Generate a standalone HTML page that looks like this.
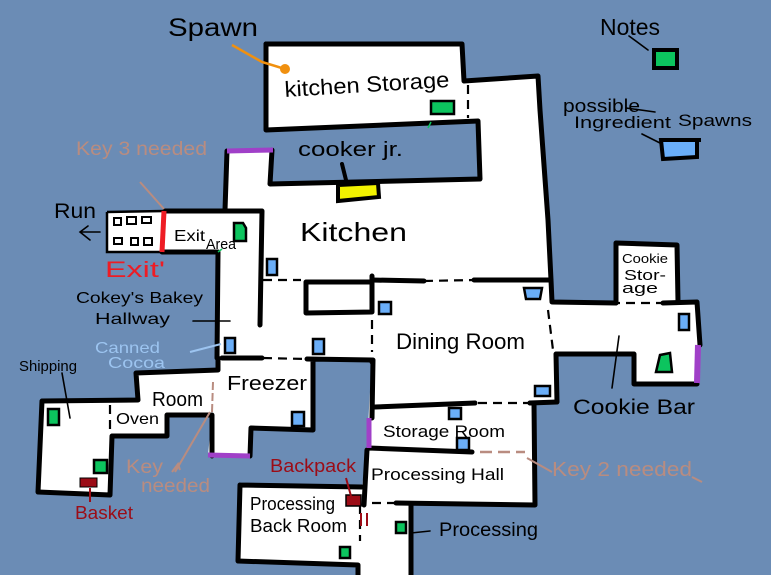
<!DOCTYPE html>
<html><head><meta charset="utf-8"><style>
html,body{margin:0;padding:0;background:#6b8cb5;width:771px;height:575px;overflow:hidden}
svg{display:block}
text{font-family:"Liberation Sans",sans-serif;fill:#000}
.w{stroke:#000;stroke-width:5;fill:none;stroke-linecap:round;stroke-linejoin:round}
.d{stroke:#000;stroke-width:2.2;fill:none;stroke-dasharray:9 6}
.t{stroke:#000;stroke-width:1.6;fill:none;stroke-linecap:round}
.g{fill:#0cc45e;stroke:#000;stroke-width:2.5}
.b{fill:#6aaef8;stroke:#000;stroke-width:2.5}
</style></head><body>
<svg width="771" height="575" viewBox="0 0 771 575" xmlns="http://www.w3.org/2000/svg">
<rect width="771" height="575" fill="#6b8cb5"/>
<g fill="#fff">
<polygon points="266,44 462,44 464,81 538,76 540,110 548,220 551,280 552,302 616,303 616,243 677,245 678,302 697,302 700,345 697,384 634,384 634,354 556,354 557,402 534,403 535,505 411,505 411,575 358,575 358,565 238,561 240,485 362,487 367,450 369,408 372,360 313,360 313,430 251,428 250,456 208,455 212,415 167,415 167,436 112,436 110,495 38,492 42,401 138,400 136,373 218,370 218,252 107,252 107,212 225,210 225,151 273,150 270,184 480,179 478,121 266,130"/>
</g>
<g class="w">
<path d="M266,44 L462,44 L464,81 L538,76 L540,110 L548,220 L551,280"/>
<path d="M266,44 L266,130 L478,121 L480,179 L270,184 L272,150"/>
<path d="M227,151 L225,210 M165,211 L262,211 L260,325"/>
<path d="M162,252 L216,252 M218,252 L217,358"/>
<path d="M306,282 L372,282 L372,312 L306,313 Z M372,276 L372,282"/>
<path d="M372,280 L424,281 M474,280 L551,280 L552,302 L616,303 M663,303 L697,302 L700,345"/>
<path d="M616,243 L677,245 L678,302 M616,243 L616,303"/>
<path d="M697,384 L634,384 L634,354 L556,354 L557,402 L530,403"/>
<path d="M375,407 L475,403 M530,403 L534,403 L535,505 L396,503"/>
<path d="M373,360 L372,418 M369,448 L472,452 M367,450 L364,505"/>
<path d="M240,485 L362,487 M240,485 L238,561 L358,565 L358,575 M411,505 L411,575"/>
<path d="M222,358 L262,358 M307,359 L372,360 L372,362 M313,360 L313,430 L251,428 L250,456 M212,456 L212,415 L167,415 L167,436 L112,436 L110,495 L38,492 L42,401 L138,400 L136,373 L218,370 L218,358"/>
</g>
<path d="M107,212 L165,211 M107,212 L107,252 L162,252" stroke="#000" stroke-width="2.5" fill="none"/>
<path class="d" d="M263,280 L301,280 M424,281 L474,280 M468,85 L468,118 M263,358 L307,359 M372,320 L372,352 M110,405 L110,433 M548,310 L553,350 M665,303 L616,303 M478,403 L530,403 M360,505 L360,541 M372,503 L396,503"/>
<path d="M227,151 L273,150" stroke="#a040c8" stroke-width="5" fill="none"/>
<path d="M369,418 L369,448" stroke="#a040c8" stroke-width="5" fill="none"/>
<path d="M208,455 L250,456" stroke="#a040c8" stroke-width="5" fill="none"/>
<path d="M698,345 L697,383" stroke="#a040c8" stroke-width="6" fill="none"/>
<path d="M164,211 L162,252" stroke="#ee1c24" stroke-width="5" fill="none"/>
<path d="M480,452 L525,452" stroke="#b98c80" stroke-width="2.5" stroke-dasharray="12 6" fill="none"/>
<path d="M213,382 L212,412" stroke="#b98c80" stroke-width="2" stroke-dasharray="8 3" fill="none"/>
<g fill="#fff" stroke="#000" stroke-width="2">
<rect x="114" y="218" width="7" height="7"/><rect x="127" y="217" width="9" height="7"/><rect x="142" y="217" width="9" height="6"/>
<rect x="114" y="238" width="8" height="6"/><rect x="131" y="238" width="7" height="7"/><rect x="144" y="238" width="8" height="7"/>
</g>
<polygon points="338,185 378,183 379,197 338,201" fill="#f2f200" stroke="#000" stroke-width="4"/>
<path class="w" d="M342,164 L347,184" style="stroke-width:4"/>
<rect class="g" x="431" y="101" width="23" height="13"/>
<rect class="g" x="654" y="50" width="23" height="18" style="stroke-width:4"/>
<path class="g" d="M234,223 L243,223 L246,228 L246,241 L234,241 Z"/>
<rect class="g" x="48" y="409" width="11" height="16"/>
<rect class="g" x="94" y="460" width="13" height="13"/>
<rect class="g" x="340" y="547" width="10" height="11"/>
<rect class="g" x="396" y="522" width="10" height="11"/>
<path class="g" d="M660,355 L670,353 L672,372 L656,372 Z"/>
<rect class="b" x="267" y="259" width="10" height="16"/>
<rect class="b" x="225" y="338" width="10" height="15"/>
<rect class="b" x="313" y="339" width="11" height="15"/>
<rect class="b" x="292" y="412" width="12" height="14"/>
<rect class="b" x="379" y="302" width="12" height="12"/>
<path class="b" d="M524,288 L542,288 L540,299 L526,299 Z"/>
<rect class="b" x="535" y="386" width="15" height="10"/>
<rect class="b" x="449" y="408" width="12" height="11"/>
<rect class="b" x="457" y="438" width="12" height="12"/>
<rect class="b" x="679" y="314" width="10" height="16"/>
<path class="b" d="M661,140 L697,140 L697,157 L663,159 Z" style="stroke-width:4"/>
<path d="M695,140 L701,140" stroke="#000" stroke-width="4"/>
<rect x="80" y="478" width="17" height="9" fill="#9c0c16" stroke="#000" stroke-width="1"/>
<rect x="346" y="495" width="15" height="11" fill="#9c0c16" stroke="#000" stroke-width="1.5"/>
<path d="M90,488 L90,502 M346,478 L351,496 M361,513 L361,526 M367,513 L367,526" stroke="#9c0c16" stroke-width="2" fill="none"/>
<path d="M232,45 L262,62 L285,69" stroke="#f0900f" stroke-width="2.5" fill="none"/>
<circle cx="285" cy="69" r="5" fill="#f0900f"/>
<path class="t" d="M629,36 L648,50"/>
<path class="t" d="M626,108 L655,112 M642,134 L660,143"/>
<path class="t" d="M193,321 L230,321 M62,373 L70,418"/>
<path class="t" d="M619,336 L612,388"/>
<path class="t" d="M411,533 L430,531"/>
<path class="t" d="M100,232 L80,232 M88,226 L80,232 L90,240"/>
<path d="M140,182 L164,209" stroke="#b98c80" stroke-width="2" fill="none"/>
<path d="M210,412 L175,472 M172,472 L178,464 L180,470" stroke="#b98c80" stroke-width="2" fill="none"/>
<path d="M527,458 L552,472 M692,477 L702,482" stroke="#b98c80" stroke-width="2" fill="none"/>
<path d="M190,352 L221,344" stroke="#9cc4f0" stroke-width="2" fill="none"/>
<path d="M428,128 L431,122 M218,252 L222,249" stroke="#0cc45e" stroke-width="1.5" fill="none"/>
<g lengthAdjust="spacingAndGlyphs">
<text x="168" y="36" font-size="25" textLength="90" lengthAdjust="spacingAndGlyphs">Spawn</text>
<text x="285" y="97" font-size="22" textLength="165" lengthAdjust="spacingAndGlyphs" transform="rotate(-3.5 285 97)">kitchen Storage</text>
<text x="298" y="156" font-size="20" textLength="105" lengthAdjust="spacingAndGlyphs">cooker jr.</text>
<text x="300" y="241" font-size="26" textLength="107" lengthAdjust="spacingAndGlyphs">Kitchen</text>
<text x="600" y="35" font-size="23" textLength="60" lengthAdjust="spacingAndGlyphs">Notes</text>
<text x="563" y="112" font-size="18" textLength="77" lengthAdjust="spacingAndGlyphs">possible</text>
<text x="574" y="128" font-size="17" textLength="97" lengthAdjust="spacingAndGlyphs">Ingredient</text>
<text x="678" y="126" font-size="17" textLength="74" lengthAdjust="spacingAndGlyphs">Spawns</text>
<text x="622" y="263" font-size="13" textLength="46" lengthAdjust="spacingAndGlyphs">Cookie</text>
<text x="624" y="280" font-size="15" textLength="42" lengthAdjust="spacingAndGlyphs">Stor-</text>
<text x="622" y="293" font-size="15" textLength="36" lengthAdjust="spacingAndGlyphs">age</text>
<text x="76" y="155" font-size="19" textLength="131" lengthAdjust="spacingAndGlyphs" style="fill:#b98c80">Key 3 needed</text>
<text x="54" y="218" font-size="21" textLength="42" lengthAdjust="spacingAndGlyphs">Run</text>
<text x="105" y="277" font-size="22" textLength="60" lengthAdjust="spacingAndGlyphs" style="fill:#ee1c24">Exit'</text>
<text x="174" y="241" font-size="16" textLength="31" lengthAdjust="spacingAndGlyphs">Exit</text>
<text x="206" y="249" font-size="15" textLength="30" lengthAdjust="spacingAndGlyphs">Area</text>
<text x="76" y="303" font-size="16" textLength="127" lengthAdjust="spacingAndGlyphs">Cokey's Bakey</text>
<text x="95" y="324" font-size="16" textLength="75" lengthAdjust="spacingAndGlyphs">Hallway</text>
<text x="95" y="353" font-size="16" textLength="65" lengthAdjust="spacingAndGlyphs" style="fill:#9cc4f0">Canned</text>
<text x="108" y="368" font-size="16" textLength="57" lengthAdjust="spacingAndGlyphs" style="fill:#9cc4f0">Cocoa</text>
<text x="19" y="371" font-size="15" textLength="58" lengthAdjust="spacingAndGlyphs">Shipping</text>
<text x="152" y="406" font-size="20" textLength="51" lengthAdjust="spacingAndGlyphs">Room</text>
<text x="116" y="424" font-size="16" textLength="43" lengthAdjust="spacingAndGlyphs">Oven</text>
<text x="227" y="390" font-size="20" textLength="80" lengthAdjust="spacingAndGlyphs">Freezer</text>
<text x="126" y="473" font-size="19" textLength="37" lengthAdjust="spacingAndGlyphs" style="fill:#b98c80">Key</text>
<text x="141" y="492" font-size="19" textLength="69" lengthAdjust="spacingAndGlyphs" style="fill:#b98c80">needed</text>
<text x="270" y="472" font-size="18" textLength="86" lengthAdjust="spacingAndGlyphs" style="fill:#9c0c16">Backpack</text>
<text x="75" y="519" font-size="18" textLength="58" lengthAdjust="spacingAndGlyphs" style="fill:#9c0c16">Basket</text>
<text x="250" y="510" font-size="18" textLength="85" lengthAdjust="spacingAndGlyphs">Processing</text>
<text x="250" y="532" font-size="18" textLength="97" lengthAdjust="spacingAndGlyphs">Back Room</text>
<text x="371" y="480" font-size="17" textLength="133" lengthAdjust="spacingAndGlyphs">Processing Hall</text>
<text x="383" y="437" font-size="17" textLength="122" lengthAdjust="spacingAndGlyphs">Storage Room</text>
<text x="396" y="349" font-size="22" textLength="129" lengthAdjust="spacingAndGlyphs">Dining Room</text>
<text x="573" y="414" font-size="21" textLength="122" lengthAdjust="spacingAndGlyphs">Cookie Bar</text>
<text x="552" y="476" font-size="20" textLength="140" lengthAdjust="spacingAndGlyphs" style="fill:#b98c80">Key 2 needed</text>
<text x="439" y="536" font-size="19" textLength="99" lengthAdjust="spacingAndGlyphs">Processing</text>
</g>
</svg>
</body></html>
